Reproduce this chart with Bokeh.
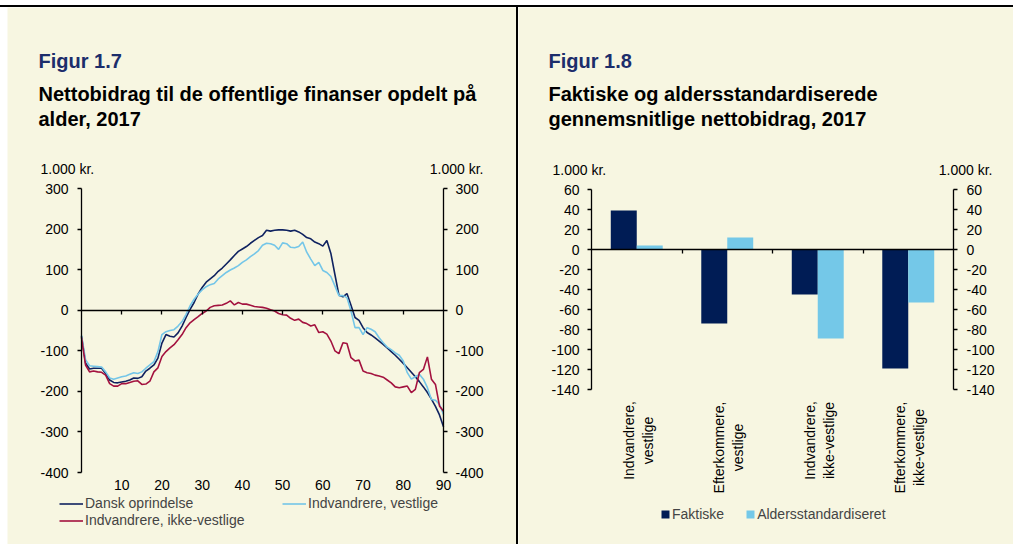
import math
from bokeh.plotting import figure
from bokeh.models import (Range1d, LinearAxis, FixedTicker, Label, Legend,
                          LegendItem, Div, ColumnDataSource)
from bokeh.layouts import row, column
from bokeh.transform import dodge
from bokeh.embed import file_html
from bokeh.resources import INLINE

# ---------------- data ----------------
ages = list(range(91))
dansk = [-64, -130, -145, -143, -143, -143, -156, -172, -178, -179,
         -177, -175, -172, -167, -168, -164, -150, -143, -135, -118,
         -81, -60, -64, -66, -56, -39, -18, 2, 19, 40,
         56, 69, 77, 85, 96, 104, 114, 124, 135, 145,
         151, 157, 165, 172, 179, 184, 197, 195, 197, 198,
         198, 197, 195, 197, 193, 187, 179, 176, 168, 164,
         158, 172, 140, 88, 37, 33, 41, 12, -18, -25,
         -43, -55, -61, -68, -76, -84, -93, -102, -111, -121,
         -131, -142, -153, -164, -176, -189, -203, -219, -237, -258,
         -287]
vestlige = [-62, -122, -137, -138, -139, -140, -152, -167, -170, -167,
            -164, -162, -158, -154, -156, -152, -143, -135, -127, -102,
            -60, -53, -50, -48, -39, -28, -10, 11, 27, 40,
            50, 58, 63, 66, 77, 85, 93, 99, 104, 110,
            118, 124, 132, 139, 147, 160, 165, 164, 160, 150,
            166, 164, 155, 154, 157, 168, 143, 126, 110, 118,
            98, 93, 83, 60, 36, 36, 31, -2, -43, -43,
            -60, -43, -47, -53, -68, -80, -91, -97, -105, -111,
            -125, -154, -170, -164, -158, -170, -191, -220, -222, -232,
            -257]
ikke_vestlige = [-67, -135, -152, -150, -152, -153, -160, -181, -187, -187,
                 -181, -181, -178, -175, -174, -183, -182, -175, -152, -142,
                 -114, -102, -93, -85, -73, -60, -43, -31, -23, -16,
                 -8, -2, 7, 11, 12, 13, 17, 23, 13, 19,
                 15, 15, 12, 9, 8, 7, 5, 1, -2, -8,
                 -11, -12, -20, -25, -22, -30, -33, -39, -36, -55,
                 -53, -59, -76, -100, -107, -80, -82, -117, -125, -123,
                 -150, -154, -156, -160, -162, -165, -172, -179, -189, -191,
                 -189, -187, -203, -195, -154, -146, -115, -170, -183, -236,
                 -249]
left_y_ticks = [-400, -300, -200, -100, 0, 100, 200, 300]
age_label_ticks = [10, 20, 30, 40, 50, 60, 70, 80, 90]
age_zero_ticks = [10, 20, 30, 40, 50, 60, 70, 80]

categories = ["Indvandrere,\nvestlige", "Efterkommere,\nvestlige",
              "Indvandrere,\nikke-vestlige", "Efterkommere,\nikke-vestlige"]
faktiske = [39, -74, -45, -119]
aldersstandardiseret = [4, 12, -89, -53]
right_y_ticks = list(range(-140, 61, 20))

# ---------------- style ----------------
BG = "#F7F6E1"
FONT = "Liberation Sans"
NAVY = "#0F2260"
LIGHT = "#74C6E8"
RED = "#A3123F"
BAR_NAVY = "#001C55"
BAR_LIGHT = "#74C8E8"
TITLE_BLUE = "#1C2D6B"
TOP, LEFT = 7, 7          # page px where the cream panels start
H = 537
W1, W2 = 509, 495
DIV_X = LEFT + W1          # divider left edge
P2_X = DIV_X + 2           # right panel left edge
BOTTOM = TOP + H


def style_axis(ax, ticks, labels=True):
    ax.ticker = FixedTicker(ticks=ticks)
    ax.axis_line_color = "black"
    ax.axis_line_width = 1.3
    ax.major_tick_line_color = "black"
    ax.major_tick_line_width = 1.3
    ax.major_tick_in = 0
    ax.major_tick_out = 4
    ax.minor_tick_line_color = None
    ax.major_label_text_font = FONT
    ax.major_label_text_font_size = "14px"
    ax.major_label_text_color = "black" if labels else None
    if labels:
        ax.major_label_overrides = {t: str(t) for t in ticks}


def add_text(p, x, y, text, size="14px", bold=False, color="black", align="left",
             baseline="alphabetic", angle=0):
    p.add_layout(Label(x=x, y=y, text=text, text_font=FONT, text_font_size=size,
                       text_font_style="bold" if bold else "normal", text_color=color,
                       text_align=align, text_baseline=baseline, angle=angle))


def make_fig(w, xr, yr):
    p = figure(width=w, height=H, x_range=xr, y_range=yr,
               x_axis_location=None, y_axis_location=None, output_backend="svg",
               toolbar_location=None, min_border=0, min_border_left=0, min_border_right=0,
               min_border_top=0, min_border_bottom=0,
               background_fill_color=BG, border_fill_color=BG, outline_line_color=None)
    p.grid.visible = False
    return p


# ---------------- left figure ----------------
# data box in page px: x 81..443, y 188..472
X0, X1, Y0, Y1 = 0, 90, -400, 300
fx = (X1 - X0) / 362.0
fy = (Y1 - Y0) / 284.0
p1 = make_fig(W1, Range1d(X0 - (81 - LEFT) * fx, X1 + (DIV_X - 443) * fx),
              Range1d(Y0 - (BOTTOM - 472) * fy, Y1 + (188 - TOP) * fy))


def lx(px):
    return X0 + (px - 81) * fx


def ly_(py):
    return Y1 - (py - 188) * fy


ly = LinearAxis(fixed_location=X0, bounds=(Y0, Y1)); style_axis(ly, left_y_ticks)
ly.major_label_standoff = 9
ry = LinearAxis(fixed_location=X1, bounds=(Y0, Y1)); style_axis(ry, left_y_ticks)
ry.major_label_standoff = 8
p1.add_layout(ly, "left")
p1.add_layout(ry, "right")
bx = LinearAxis(fixed_location=Y0, bounds=(X0, X1)); style_axis(bx, age_label_ticks)
bx.axis_line_color = None; bx.major_tick_line_color = None; bx.major_tick_out = 0
bx.major_label_standoff = 7
p1.add_layout(bx, "below")
zx = LinearAxis(fixed_location=0, bounds=(X0, X1)); style_axis(zx, age_zero_ticks, labels=False)
p1.add_layout(zx, "below")

r1 = p1.line(ages, dansk, line_color=NAVY, line_width=1.6)
r2 = p1.line(ages, vestlige, line_color=LIGHT, line_width=1.6)
r3 = p1.line(ages, ikke_vestlige, line_color=RED, line_width=1.6)

add_text(p1, lx(38), ly_(60), "Figur 1.7", "20px", True, TITLE_BLUE)
add_text(p1, lx(38), ly_(93), "Nettobidrag til de offentlige finanser opdelt på", "20px", True)
add_text(p1, lx(38), ly_(118), "alder, 2017", "20px", True)
add_text(p1, lx(40), ly_(168), "1.000 kr.")
add_text(p1, lx(483), ly_(168), "1.000 kr.", align="right")

leg_common = dict(padding=0, margin=0, spacing=0, border_line_color=None,
                  background_fill_alpha=0, label_text_font=FONT, label_text_font_size="14px",
                  label_height=17, glyph_height=17, glyph_width=24, label_standoff=2)
legA = Legend(items=[LegendItem(label="Dansk oprindelse", renderers=[r1]),
                     LegendItem(label="Indvandrere, ikke-vestlige", renderers=[r3])],
              location=(59 - LEFT, BOTTOM - 528.5), **leg_common)
legB = Legend(items=[LegendItem(label="Indvandrere, vestlige", renderers=[r2])],
              location=(282 - LEFT, BOTTOM - 511.5), **leg_common)
p1.add_layout(legA)
p1.add_layout(legB)

# ---------------- right figure ----------------
# data box in page px: x 591..953, y 189..389
ncat = len(categories)
centers = [i + 0.5 for i in range(ncat)]
RX0, RX1, RY0, RY1 = 0, ncat, -140, 60
gx = (RX1 - RX0) / 362.0
gy = (RY1 - RY0) / 200.0
p2 = make_fig(W2, Range1d(RX0 - (591 - P2_X) * gx, RX1 + (P2_X + W2 - 953) * gx),
              Range1d(RY0 - (BOTTOM - 389) * gy, RY1 + (189 - TOP) * gy))


def rx(px):
    return RX0 + (px - 591) * gx


def ry_(py):
    return RY1 - (py - 189) * gy


ly2 = LinearAxis(fixed_location=RX0, bounds=(RY0, RY1)); style_axis(ly2, right_y_ticks)
ly2.major_label_standoff = 8
ry2 = LinearAxis(fixed_location=RX1, bounds=(RY0, RY1)); style_axis(ry2, right_y_ticks)
ry2.major_label_standoff = 9
p2.add_layout(ly2, "left")
p2.add_layout(ry2, "right")
zx2 = LinearAxis(fixed_location=0, bounds=(RX0, RX1))
style_axis(zx2, list(range(1, ncat)), labels=False)
p2.add_layout(zx2, "below")

src = ColumnDataSource(dict(x=centers, faktiske=faktiske, alders=aldersstandardiseret))
bw = 0.287
b1 = p2.vbar(x=dodge("x", -bw / 2), top="faktiske", bottom=0, width=bw,
             source=src, fill_color=BAR_NAVY, line_color=None)
b2 = p2.vbar(x=dodge("x", bw / 2), top="alders", bottom=0, width=bw,
             source=src, fill_color=BAR_LIGHT, line_color=None)

# category labels: rotated, lines centred, block top at page y 401
label_mid_px = [440, 447, 440, 447]
for c, lab, mid in zip(centers, categories, label_mid_px):
    add_text(p2, c + 1.5 * gx, ry_(mid), lab, align="center", baseline="middle",
             angle=math.pi / 2)

add_text(p2, rx(548), ry_(60), "Figur 1.8", "20px", True, TITLE_BLUE)
add_text(p2, rx(548), ry_(93), "Faktiske og aldersstandardiserede", "20px", True)
add_text(p2, rx(548), ry_(118), "gennemsnitlige nettobidrag, 2017", "20px", True)
add_text(p2, rx(552), ry_(169), "1.000 kr.")
add_text(p2, rx(992), ry_(169), "1.000 kr.", align="right")

legR = Legend(items=[LegendItem(label="Faktiske", renderers=[b1]),
                     LegendItem(label="Aldersstandardiseret", renderers=[b2])],
              location=(660 - P2_X, BOTTOM - 522.5), orientation="horizontal", padding=0,
              margin=0, spacing=21, border_line_color=None, background_fill_alpha=0,
              label_text_font=FONT, label_text_font_size="14px", label_height=17,
              glyph_height=10, glyph_width=10, label_standoff=2)
p2.add_layout(legR)

top_line = Div(text="", width=LEFT + W1 + 2 + W2, height=2,
               margin=(TOP - 2, 0, 0, 0), styles={"background-color": "black"})
divider = Div(text="", width=2, height=H, margin=0, styles={"background-color": "black"})
panels = row(p1, divider, p2, spacing=0, margin=(0, 0, 0, LEFT))
layout = column(top_line, panels, spacing=0)

open("out.html", "w").write(file_html(layout, INLINE))
